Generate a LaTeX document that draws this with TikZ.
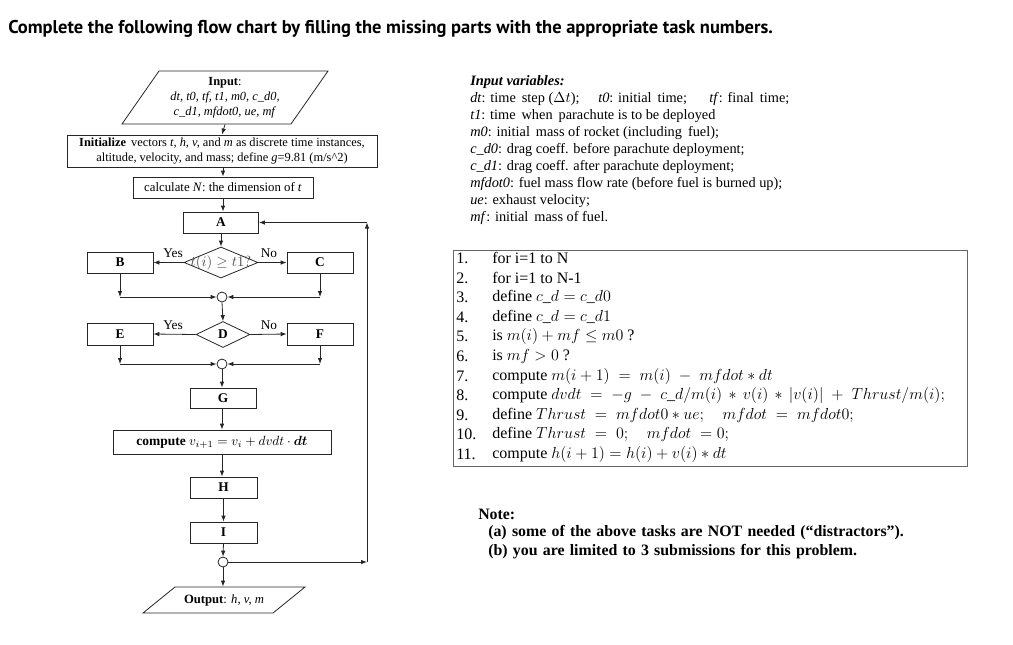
\documentclass[tikz,border=0pt]{standalone}
\usepackage{fontspec}
\setmainfont{Liberation Serif}
\newfontfamily\titlefont{PT Sans}
\usepackage{bm}
\usetikzlibrary{arrows.meta,shapes.geometric}
\newcommand\notefont{\fontsize{11.9}{13}\selectfont\bfseries\spaceskip=0.33em plus 0.1em\relax}
\tikzset{
  ln/.style={line width=0.6pt, draw=black!85},
  arr/.style={ln, -{Latex[length=4.5pt,width=3.4pt]}},
  fbox/.style={ln, draw, rectangle, inner sep=0pt, align=center, font=\fontsize{9.4}{11}\selectfont},
  lbox/.style={fbox, minimum width=49.5pt, minimum height=15.75pt, font=\fontsize{10}{11}\selectfont\bfseries},
  dec/.style={ln, draw, diamond, inner sep=0pt},
  junc/.style={ln, draw, circle, minimum size=7.5pt, inner sep=0pt},
  yn/.style={font=\fontsize{10}{11}\selectfont, inner sep=0pt},
  txt/.style={anchor=west, inner sep=0pt},
  ivar/.style={txt, font=\fontsize{10.75}{12}\selectfont},
  tab/.style={txt, font=\fontsize{12}{14}\selectfont},
  note/.style={txt, font=\notefont},
}
\begin{document}
\begin{tikzpicture}[x=0.75pt,y=-0.75pt]
\useasboundingbox (0,0) rectangle (1013,644);
% title
\node[txt, font=\titlefont\bfseries\fontsize{13.85}{16}\selectfont] (title) at (8,29) {Complete the following flow chart by filling the missing parts with the appropriate task numbers.};

% ---------- flowchart ----------
\draw[ln] (122,124) -- (159,71) -- (328,71) -- (291,124) -- cycle;
\node[fbox, draw=none, minimum height=39.75pt, font=\fontsize{9.3}{11.25}\selectfont] (inp) at (225,97.5) {\textbf{Input}:\\ \textit{dt, t0, tf, t1, m0, c\_d0,}\\ \textit{c\_d1, mfdot0, ue, mf}};
\node[fbox, minimum width=232.5pt, minimum height=24pt, font=\fontsize{9.3}{11}\selectfont] (init) at (222,151) {\textbf{Initialize}\, vectors \textit{t, h, v,} and \textit{m} as discrete time instances,\\ altitude, velocity, and mass; define \textit{g}=9.81 (m/s\^{}2)};
\node[fbox, minimum width=135pt, minimum height=15.75pt, font=\fontsize{9.6}{11}\selectfont] (calc) at (223,187.5) {calculate \textit{N}: the dimension of \textit{t}};
\node[lbox, minimum width=56.25pt] (A) at (221,222.5) {A};
\node[dec, minimum width=55.5pt, minimum height=23.25pt] (d1) at (221,262.5) {};
\node[inner sep=0pt, font=\fontsize{11.3}{12}\selectfont, text=black!70] (d1t) at (221,262.5) {$t(i)\geq t1?$};
\node[lbox] (B) at (120,262.5) {B};
\node[lbox] (C) at (320,262.5) {C};
\node[junc] (j1) at (222,297) {};
\node[dec, minimum width=40.5pt, minimum height=19.5pt, font=\fontsize{10}{11}\selectfont\bfseries] (D) at (223,334.5) {D};
\node[lbox, minimum height=16.5pt] (E) at (120,334) {E};
\node[lbox, minimum height=16.5pt] (F) at (320,334) {F};
\node[junc] (j2) at (222,364) {};
\node[lbox, minimum height=15pt] (G) at (223,398) {G};
\node[fbox, minimum width=163.5pt, minimum height=18pt, font=\fontsize{10.1}{11}\selectfont] (comp) at (222,442) {\textbf{compute} $v_{i+1} = v_i + dvdt\cdot \bm{dt}$};
\node[lbox, minimum width=50.25pt] (H) at (223.5,487.5) {H};
\node[lbox, minimum width=50.25pt] (I) at (223.5,532.5) {I};
\node[junc] (j3) at (223,562) {};
\draw[ln] (143,613) -- (175,587) -- (305,587) -- (273,613) -- cycle;
\node[fbox, draw=none, minimum height=19.5pt, font=\fontsize{9.5}{11}\selectfont] (out) at (224,600) {\textbf{Output}: \textit{h, v, m}};

\node[yn] (y1) at (173,253) {Yes};
\node[yn] (n1) at (269,253) {No};
\node[yn] (y2) at (173,325) {Yes};
\node[yn] (n2) at (269,325) {No};

\coordinate (lb) at (367,562);
\coordinate (lt) at (367,222.5);

\draw[arr] (inp.south) -- (init.north);
\draw[arr] (calc.north |- init.south) -- (calc.north);
\draw[arr] (calc.south) -- (A.north -| calc.south);
\draw[arr] (A.south) -- (d1.north);
\draw[arr] (d1.west) -- (B.east);
\draw[arr] (d1.east) -- (C.west);
\draw[arr] (B.south) -- (B.south |- j1.center);
\draw[arr] (B.south |- j1.center) -- (j1.west);
\draw[arr] (C.south) -- (C.south |- j1.center);
\draw[arr] (C.south |- j1.center) -- (j1.east);
\draw[arr] (j1.south) -- (D.north);
\draw[arr] (D.west) -- (E.east);
\draw[arr] (D.east) -- (F.west);
\draw[arr] (E.south) -- (E.south |- j2.center);
\draw[arr] (E.south |- j2.center) -- (j2.west);
\draw[arr] (F.south) -- (F.south |- j2.center);
\draw[arr] (F.south |- j2.center) -- (j2.east);
\draw[arr] (j2.south) -- (G.north -| j2.south);
\draw[arr] (G.south -| comp.north) -- (comp.north);
\draw[arr] (comp.south) -- (H.north -| comp.south);
\draw[arr] (H.south) -- (I.north);
\draw[arr] (I.south) -- (j3.north);
\draw[arr] (j3.south) -- (out.north -| j3.south);
\draw[arr] (j3.east) -- (lb);
\draw[arr] (lb) -- (lt);
\draw[arr] (lt) -- (A.east);

% ---------- input variables ----------
\node[ivar, font=\fontsize{10.75}{12}\selectfont\bfseries\itshape] (iv0) at (470,82) {Input variables:};
\node[ivar] (iv1a) at (470,99) {\textit{dt}: time\, step ($\Delta t$);};
\node[ivar] (iv1b) at (598,99) {\textit{t0}: initial\, time;};
\node[ivar] (iv1c) at (709,99) {\textit{tf}: final\, time;};
\node[ivar] (iv2) at (470,116) {\textit{t1}: time\, when\, parachute is to be deployed};
\node[ivar] (iv3) at (470,133) {\textit{m0}: initial\, mass of rocket (including\, fuel);};
\node[ivar] (iv4) at (470,150) {\textit{c\_d0}: drag coeff. before parachute deployment;};
\node[ivar] (iv5) at (470,167) {\textit{c\_d1}: drag coeff. after parachute deployment;};
\node[ivar] (iv6) at (470,184) {\textit{mfdot0}: fuel mass flow rate (before fuel is burned up);};
\node[ivar] (iv7) at (470,201) {\textit{ue}: exhaust velocity;};
\node[ivar] (iv8) at (470,218) {\textit{mf}: initial\, mass of fuel.};

% ---------- task table ----------
\draw[line width=0.6pt, draw=black!60] (453,250) rectangle (967,466);
\foreach \n/\y in {1/258,2/278,3/297,4/317,5/336,6/356,7/376,8/395,9/415,10/434,11/454}
  \node[tab] (n\n) at (456,\y) {\n.};
\node[tab] (t1) at (492,258) {for i=1 to N};
\node[tab] (t2) at (492,278) {for i=1 to N-1};
\node[tab] (t3) at (492,297) {define $c\_d = c\_d0$};
\node[tab] (t4) at (492,317) {define $c\_d = c\_d1$};
\node[tab] (t5) at (492,336) {is $m(i) + mf \leq m0$ ?};
\node[tab] (t6) at (492,356) {is $mf > 0$ ?};
\node[tab] (t7) at (492,376) {compute $m(i+1) \;=\; m(i) \;-\; mfdot * dt$};
\node[tab] (t8) at (492,395) {compute $dvdt \;=\; -g \;-\; c\_d/m(i) \,*\, v(i) \,*\, |v(i)| \;+\; Thrust/m(i);$};
\node[tab] (t9) at (492,415) {define $Thrust \;=\; mfdot0 * ue;\quad mfdot \;=\; mfdot0;$};
\node[tab] (t10) at (492,434) {define $Thrust \;=\; 0;\quad mfdot \;=0;$};
\node[tab] (t11) at (492,454) {compute $h(i+1) = h(i) + v(i) * dt$};

% ---------- note ----------
\node[note] (nt0) at (478,514) {Note:};
\node[note] (nt1) at (488,533) {(a) some of the above tasks are NOT needed (``distractors'').};
\node[note] (nt2) at (488,552) {(b) you are limited to 3 submissions for this problem.};
\end{tikzpicture}
\end{document}
